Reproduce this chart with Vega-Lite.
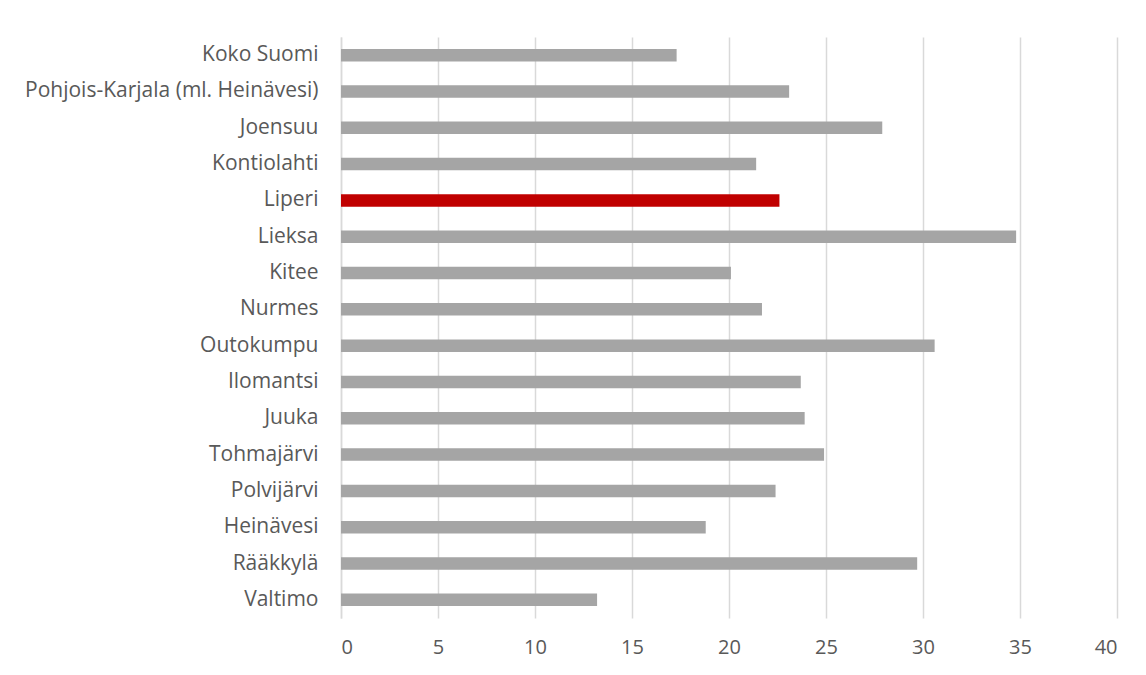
{
  "$schema": "https://vega.github.io/schema/vega-lite/v6.json",
  "autosize": "none",
  "width": 776,
  "height": 581,
  "padding": {"left": 341, "top": 37, "right": 29, "bottom": 57},
  "background": "white",
  "config": {
    "view": {"stroke": null},
    "font": "Open Sans",
    "axis": {"labelFont": "Open Sans", "labelColor": "#595959", "labelFontSize": 20}
  },
  "data": {
    "values": [
      {"alue": "Koko Suomi", "arvo": 17.3, "korostus": "ei"},
      {"alue": "Pohjois-Karjala (ml. Heinävesi)", "arvo": 23.1, "korostus": "ei"},
      {"alue": "Joensuu", "arvo": 27.9, "korostus": "ei"},
      {"alue": "Kontiolahti", "arvo": 21.4, "korostus": "ei"},
      {"alue": "Liperi", "arvo": 22.6, "korostus": "kyllä"},
      {"alue": "Lieksa", "arvo": 34.8, "korostus": "ei"},
      {"alue": "Kitee", "arvo": 20.1, "korostus": "ei"},
      {"alue": "Nurmes", "arvo": 21.7, "korostus": "ei"},
      {"alue": "Outokumpu", "arvo": 30.6, "korostus": "ei"},
      {"alue": "Ilomantsi", "arvo": 23.7, "korostus": "ei"},
      {"alue": "Juuka", "arvo": 23.9, "korostus": "ei"},
      {"alue": "Tohmajärvi", "arvo": 24.9, "korostus": "ei"},
      {"alue": "Polvijärvi", "arvo": 22.4, "korostus": "ei"},
      {"alue": "Heinävesi", "arvo": 18.8, "korostus": "ei"},
      {"alue": "Rääkkylä", "arvo": 29.7, "korostus": "ei"},
      {"alue": "Valtimo", "arvo": 13.2, "korostus": "ei"}
    ]
  },
  "mark": {"type": "bar", "size": 12.5},
  "encoding": {
    "y": {
      "field": "alue",
      "type": "nominal",
      "sort": null,
      "title": null,
      "scale": {"paddingInner": 0.65, "paddingOuter": 0.325},
      "axis": {
        "domain": true,
        "domainColor": "#d9d9d9",
        "domainWidth": 1.5,
        "ticks": false,
        "labelPadding": 23,
        "labelFontSize": 21,
        "grid": false,
        "labelLimit": 400
      }
    },
    "x": {
      "field": "arvo",
      "type": "quantitative",
      "title": null,
      "scale": {"domain": [0, 40], "nice": false},
      "axis": {
        "values": [0, 5, 10, 15, 20, 25, 30, 35, 40],
        "domain": false,
        "ticks": false,
        "grid": true,
        "gridColor": "#d9d9d9",
        "gridWidth": 1.5,
        "labelPadding": 19
      }
    },
    "color": {
      "field": "korostus",
      "type": "nominal",
      "scale": {"domain": ["ei", "kyllä"], "range": ["#a5a5a5", "#c00000"]},
      "legend": null
    }
  }
}
